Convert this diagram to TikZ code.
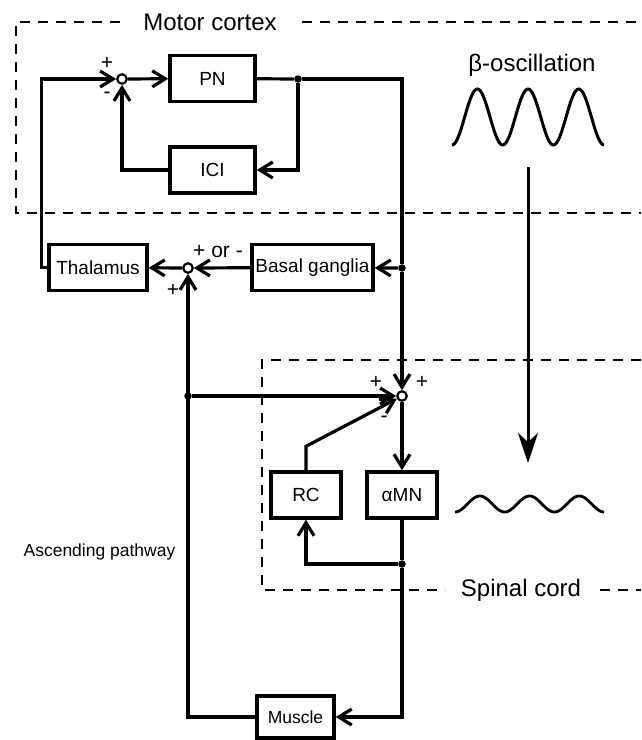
\documentclass[tikz,border=0pt]{standalone}
\usepackage{fontspec}
\setmainfont{Liberation Sans}
\usetikzlibrary{arrows.meta, positioning, calc}

\begin{document}
\begin{tikzpicture}[x=1pt, y=-1pt,
  blk/.style={draw, line width=3.4pt, inner sep=0pt, minimum height=46pt, font=\fontsize{19}{22}\selectfont},
  sumj/.style={circle, draw, line width=2.2pt, fill=white, inner sep=0pt, minimum size=9.5pt},
  jdot/.style={circle, fill, inner sep=0pt, minimum size=7.5pt},
  sgn/.style={font=\fontsize{21}{22}\selectfont, inner sep=0pt},
  big/.style={font=\fontsize{24}{28}\selectfont, inner sep=0pt},
  wire/.style={line width=3.2pt},
  arr/.style={wire, -{Straight Barb[length=13pt, width=16pt]}},
  region/.style={line width=2.7pt, dash pattern=on 10pt off 8pt}]
  \useasboundingbox (0,0) rectangle (641,740);

  % dashed regions
  \node[big] (mc) at (210,22) {Motor cortex};
  \node[big] (sc) at (521,590) {Spinal cord};
  \draw[region] (120,22) -- (16,22) -- (16,213) -- (641,213);
  \draw[region] (302,22) -- (641,22);
  \draw[region] (641,360) -- (262,360) -- (262,590) -- (445,590);
  \draw[region] (600,590) -- (641,590);

  % blocks
  \node[blk, minimum width=85pt] (pn) at (212.5,78.5) {PN};
  \node[blk, minimum width=85pt] (ici) at (212.5,170) {ICI};
  \node[blk, minimum width=98pt] (thal) at (98,267.5) {Thalamus};
  \node[blk, minimum width=121pt] (bg) at (312.5,267.5) {Basal ganglia};
  \node[blk, minimum width=70pt] (rc) at (306,495) {RC};
  \node[blk, minimum width=70pt] (amn) at (402,495) {αMN};
  \node[blk, minimum width=77pt, minimum height=42pt, font=\fontsize{17.5}{20}\selectfont] (mus) at (295.5,717) {Muscle};

  \node[sumj] (sumc) at (122,79) {};
  \node[sumj] (sumt) at (188,268) {};
  \node[sumj] (sums) at (402,396) {};
  \node[jdot] (dA) at (298,79) {};
  \node[jdot] (dB) at (402,268) {};
  \node[jdot] (dC) at (402,564) {};
  \node[jdot] (dD) at (188,396) {};
  \coordinate (cR) at (402,79);

  % cortical loop
  \draw[arr] (sumc) -- (pn);
  \draw[wire] (pn) -- (dA);
  \draw[arr] (dA) |- (ici);
  \draw[arr] (ici) -| (sumc);
  \draw[wire] (dA) -- (cR) -- (dB);
  \draw[arr] (dB) -- (sums);
  \draw[arr] (dB) -- (bg);
  \draw[arr] (bg) -- (sumt);
  \draw[arr] (sumt) -- (thal);
  \draw[arr] (thal.west) -- ++(-6,0) |- (sumc);

  % spinal loop
  \draw[arr] (sums) -- (amn);
  \draw[wire] (amn) -- (dC);
  \draw[arr] (dC) -| (rc);
  \draw[arr] (rc.north) -- ++(0,-24) -- (sums);
  \draw[arr] (dC) |- (mus);
  \draw[arr] (mus) -| (sumt);
  \draw[arr] (dD) -- (sums);

  % signs
  \node[sgn] at (107,63) {+};
  \node[sgn] at (107,95) {-};
  \node[sgn] at (218,252) {+ or -};
  \node[sgn] at (173,290) {+};
  \node[sgn] at (376,382) {+};
  \node[sgn] at (422,382) {+};
  \node[sgn] at (384,419) {-};

  \node[font=\fontsize{17.5}{20}\selectfont, inner sep=0pt] (asc) at (99.5,552) {Ascending pathway};

  % oscillations
  \node[big] (beta) at (532,65) {β-oscillation};
  \draw[line width=3pt] plot[domain=452:604, samples=120] (\x, {117+28*cos((\x-452)*7.1006)});
  \draw[line width=2.8pt] plot[domain=455:604, samples=120] (\x, {504+8*cos((\x-455)*7.2435)});
  \coordinate (wtop) at (528,167);
  \coordinate (wbot) at (528,463);
  \draw[line width=3pt, -{Stealth[length=30pt, width=20pt, inset=9pt]}] (wtop) -- (wbot);
\end{tikzpicture}
\end{document}
